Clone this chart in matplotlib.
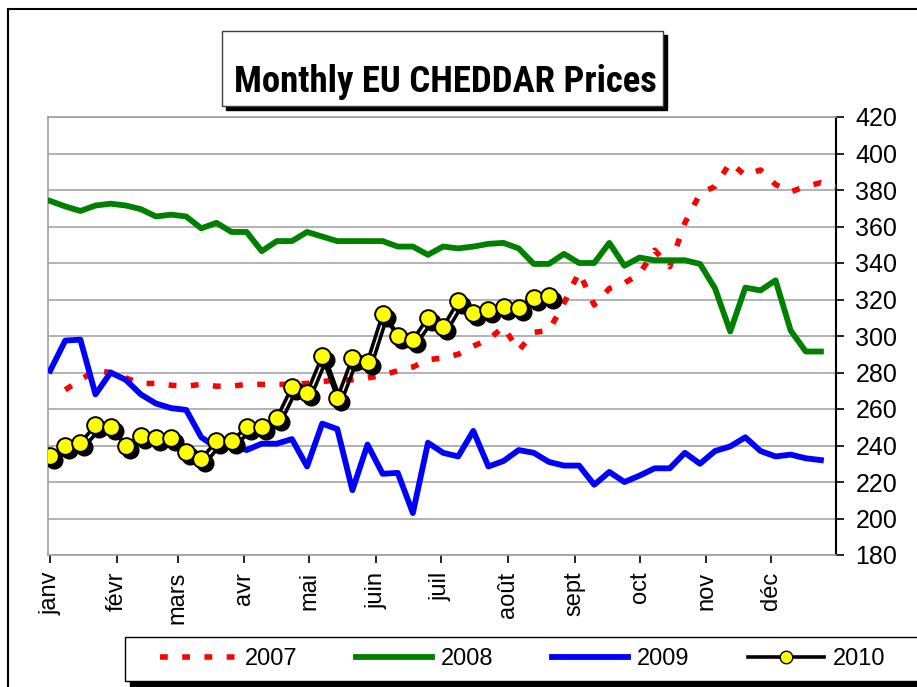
import matplotlib
matplotlib.use("Agg")
import matplotlib.pyplot as plt
import matplotlib.font_manager as fm
from matplotlib.patches import Rectangle
from matplotlib.lines import Line2D
from matplotlib import transforms

# weekly prices, one value per week of the year
prices_2007 = [270.5, 276, 281, 280, 277, 274, 274, 273, 272.5, 273.5, 272.5, 272.5, 273.5,
               273.5, 273.5, 273.5, 274, 275, 276, 276, 277, 278.5, 281, 283, 287, 288,
               290, 294.5, 298, 305, 292, 302, 303, 318, 335, 317, 326, 329, 334, 347,
               338, 362, 378, 382, 395, 388, 391, 383, 379, 382, 384, 382]
prices_2008 = [374, 371, 368.5, 371.5, 372.5, 371.5, 369.5, 365.5, 366.5, 365.5, 359, 362,
               357, 357, 346.5, 352, 352, 357, 354.5, 352, 352, 352, 352, 349, 349, 344.5,
               349, 348, 349, 350.5, 351, 348, 339.5, 339.5, 345, 340, 340, 351, 338.5,
               343, 341.5, 341.5, 341.5, 339.5, 326, 302.5, 326.5, 325, 330.5, 303,
               291.5, 291.5]
prices_2009 = [281, 297.5, 298, 268, 280, 276, 268, 263, 260.5, 259.5, 244.5, 239, 240.5,
               237.5, 241, 241, 243.5, 228.5, 252, 249, 215.5, 240.5, 224.5, 225, 203,
               241.5, 236, 234, 248, 228.5, 231.5, 237.5, 236, 231, 229, 229, 218.5,
               225.5, 220, 223.5, 227.5, 227.5, 236, 230, 237, 239.5, 244.5, 237, 234,
               235, 233, 232]
prices_2010 = [234, 239.5, 241.5, 251, 250, 240, 245, 244, 244, 236.5, 232.5, 242.5, 242.5,
               250, 250, 255, 272, 269, 289, 266, 288, 286, 312, 300, 298, 310, 305, 319,
               312.5, 314.5, 316, 315.5, 321, 322]
first_week_2007 = 1

months = ["janv", "févr", "mars", "avr", "mai", "juin", "juil", "août", "sept", "oct", "nov", "déc"]
month_start_day = [1, 32, 60, 91, 121, 152, 182, 213, 244, 274, 305, 335]


def week_days(n, start=0):
    return [1 + 7 * (start + k) for k in range(n)]


fonts = fm.fontManager.ttflist
names = {f.name for f in fonts}
base_font = "Liberation Sans" if "Liberation Sans" in names else "DejaVu Sans"
plt.rcParams["font.family"] = [base_font, "DejaVu Sans"]

# a narrow bold face for the title if one is installed
title_kw = dict(family=base_font, fontweight="bold")
for cand in ["Liberation Sans Narrow", "Roboto Condensed", "Open Sans Condensed", "Arial Narrow"]:
    if cand in names:
        title_kw = dict(family=cand, fontweight="bold")
        break
else:
    if any(f.name == "DejaVu Sans" and f.stretch == "condensed" and f.weight in ("bold", 700)
           for f in fonts):
        title_kw = dict(family="DejaVu Sans", fontweight="bold", fontstretch="condensed")

W, H = 917, 687
fig = plt.figure(figsize=(W / 100, H / 100), dpi=100)
ax = fig.add_axes([48 / W, 1 - 555 / H, (836 - 48) / W, (555 - 117) / H])

ax.plot(week_days(len(prices_2007), first_week_2007), prices_2007, color="#ff0000", lw=4,
        dashes=(1.4, 2.6), label="2007", zorder=3)
ax.plot(week_days(len(prices_2008)), prices_2008, color="#008000", lw=4.2, label="2008", zorder=4)
ax.plot(week_days(len(prices_2009)), prices_2009, color="#0000ff", lw=4.2, label="2009", zorder=5)

shadow = transforms.offset_copy(ax.transData, fig=fig, x=4, y=-4, units="dots")
d10 = week_days(len(prices_2010))
ax.plot(d10, prices_2010, color="black", lw=2.6, marker="o", ms=12, mfc="black",
        mec="black", transform=shadow, zorder=6)
ax.plot(d10, prices_2010, color="black", lw=2.6, marker="o", ms=12, mfc="#ffff00",
        mec="black", mew=1.4, zorder=7)

ax.set_xlim(0, 365)
ax.set_ylim(180, 420)
ax.set_yticks(range(180, 421, 20))
ax.yaxis.tick_right()
ax.set_xticks(month_start_day)
ax.set_xticklabels(months, rotation=90)
ax.tick_params(axis="both", length=6, width=1.2, color="black")
ax.tick_params(axis="x", labelsize=17, pad=6)
ax.tick_params(axis="y", labelsize=18, pad=8)
ax.grid(axis="y", color="#a6a6a6", lw=1.2)
ax.set_axisbelow(True)
for side in ["left", "top", "bottom"]:
    ax.spines[side].set_color("#a0a0a0")
    ax.spines[side].set_linewidth(1.2)
ax.spines["right"].set_color("black")
ax.spines["right"].set_linewidth(1.5)

# outer chart frame
fig.patches.append(Rectangle((8 / W, -0.2), 2, 1.2 - 9 / H, transform=fig.transFigure,
                             fill=False, ec="black", lw=1.5, zorder=0))

# title box with shadow
tx0, tx1, ty0, ty1 = 222, 663, 31, 106
fig.patches.append(Rectangle(((tx0 + 4) / W, 1 - (ty1 + 4) / H), (tx1 - tx0) / W, (ty1 - ty0) / H,
                             transform=fig.transFigure, fc="black", ec="black", zorder=1))
fig.patches.append(Rectangle((tx0 / W, 1 - ty1 / H), (tx1 - tx0) / W, (ty1 - ty0) / H,
                             transform=fig.transFigure, fc="white", ec="#404040", lw=1, zorder=2))
title = fig.text(445 / W, 1 - 92 / H, "Monthly EU CHEDDAR Prices", ha="center", va="baseline",
                 fontsize=26, zorder=3, **title_kw)

# legend box with shadow
lx0, ly0, ly1 = 125, 637, 681
fig.patches.append(Rectangle(((lx0 + 5) / W, 1 - (ly1 + 6) / H), 1, (ly1 - ly0) / H,
                             transform=fig.transFigure, fc="black", ec="black", zorder=1))
fig.patches.append(Rectangle((lx0 / W, 1 - ly1 / H), 1, (ly1 - ly0) / H,
                             transform=fig.transFigure, fc="white", ec="black", lw=1, zorder=2))

handles, labels = ax.get_legend_handles_labels()
handles.append(Line2D([], [], color="black", lw=2.6, marker="o", ms=9, mfc="#ffff00", mec="black"))
labels.append("2010")
leg = fig.legend(handles, labels, loc="center left", bbox_to_anchor=(160 / W, 1 - 659 / H),
                 ncol=4, frameon=False, fontsize=17, borderpad=0, borderaxespad=0,
                 handlelength=3.2, handletextpad=0.38, columnspacing=2.5)
leg.set_zorder(5)

fig.canvas.draw()
w = title.get_window_extent().width
title.set_fontsize(min(26 * 424 / w, 34))

fig.savefig("out.png", dpi=100)
